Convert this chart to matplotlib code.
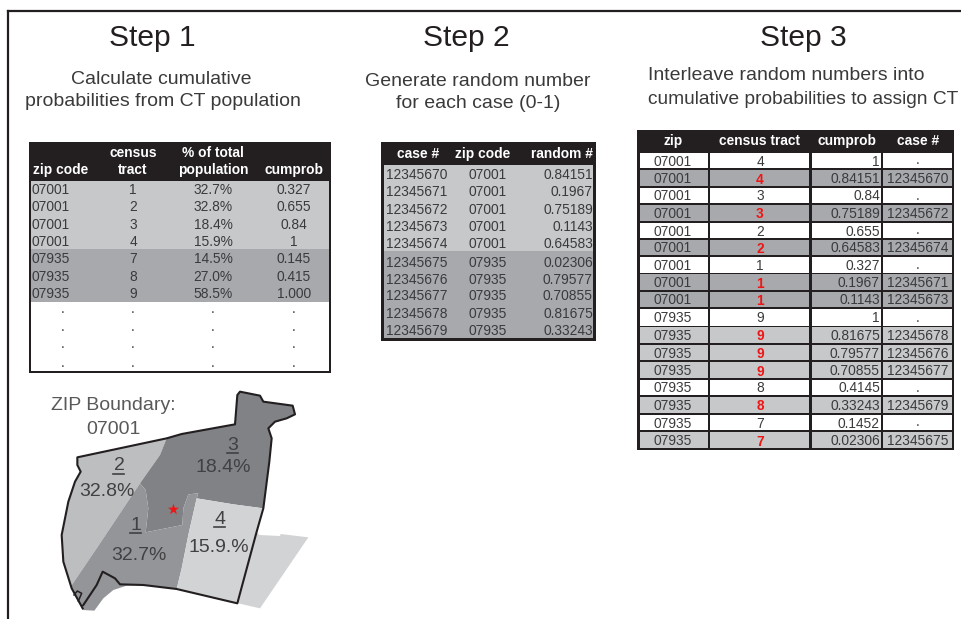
import matplotlib
matplotlib.use("Agg")
import matplotlib.pyplot as plt
from matplotlib.patches import Polygon, Rectangle

plt.rcParams['font.family'] = ['Liberation Sans', 'DejaVu Sans']

DARK = '#231f20'
TXT = '#3a3a3c'
LIGHT = '#c7c8ca'
MID = '#a7a9ac'
TRACT1 = '#939598'
RED = '#f01515'

# ---------- data ----------
t1_zip = ['07001', '07001', '07001', '07001', '07935', '07935', '07935', '.', '.', '.', '.']
t1_tract = ['1', '2', '3', '4', '7', '8', '9', '.', '.', '.', '.']
t1_pct = ['32.7%', '32.8%', '18.4%', '15.9%', '14.5%', '27.0%', '58.5%', '.', '.', '.', '.']
t1_cum = ['0.327', '0.655', '0.84', '1', '0.145', '0.415', '1.000', '.', '.', '.', '.']

t2_case = ['12345670', '12345671', '12345672', '12345673', '12345674',
           '12345675', '12345676', '12345677', '12345678', '12345679']
t2_zip = ['07001'] * 5 + ['07935'] * 5
t2_rand = ['0.84151', '0.1967', '0.75189', '0.1143', '0.64583',
           '0.02306', '0.79577', '0.70855', '0.81675', '0.33243']

t3_zip = ['07001'] * 9 + ['07935'] * 8
t3_tract = ['4', '4', '3', '3', '2', '2', '1', '1', '1', '9', '9', '9', '9', '8', '8', '7', '7']
t3_cum = ['1', '0.84151', '0.84', '0.75189', '0.655', '0.64583', '0.327', '0.1967', '0.1143',
          '1', '0.81675', '0.79577', '0.70855', '0.4145', '0.33243', '0.1452', '0.02306']
t3_case = ['.', '12345670', '.', '12345672', '.', '12345674', '.', '12345671', '12345673',
           '.', '12345678', '12345676', '12345677', '.', '12345679', '.', '12345675']

titles = ['Step 1', 'Step 2', 'Step 3']

fig = plt.figure(figsize=(9.62, 6.19), dpi=100)
ax = fig.add_axes([0, 0, 1, 1])
ax.set_xlim(0, 962)
ax.set_ylim(619, 0)
ax.axis('off')

PX = 0.72


def T(x, y, s, px=13.7, color=TXT, ha='center', weight='normal', z=5):
    return ax.text(x, y + 1, s, fontsize=px * PX, color=color, ha=ha, va='center',
                   fontweight=weight, zorder=z)


def R(x0, y0, x1, y1, c, z=1):
    ax.add_patch(Rectangle((x0, y0), x1 - x0, y1 - y0, fc=c, ec='none', zorder=z))


# frame
ax.plot([8, 8], [619, 11], color=DARK, lw=1.6, solid_capstyle='projecting')
ax.plot([8, 962], [11, 11], color=DARK, lw=1.6)

# titles
for x, s in zip([152, 466, 803], titles):
    T(x, 37, s, px=30, color=DARK)

SUB = 19.5
T(161, 79, 'Calculate cumulative', px=SUB)
T(163, 101, 'probabilities from CT population', px=SUB)
T(478, 81, 'Generate random number', px=SUB)
T(478, 103, 'for each case (0-1)', px=SUB)
T(648, 75, 'Interleave random numbers into', px=SUB, ha='left')
T(648, 98, 'cumulative probabilities to assign CT', px=19.1, ha='left')

# table 1
R(29, 142, 331, 373, DARK)
R(31, 181, 329, 249, LIGHT, 2)
R(31, 249, 329, 302, MID, 2)
R(31, 302, 329, 371, 'white', 2)
W = 'white'
T(61, 169, 'zip code', color=W, weight='bold')
T(133, 152, 'census', color=W, weight='bold')
T(133, 169, 'tract', color=W, weight='bold')
T(213, 152, '% of total', color=W, weight='bold')
T(213, 169, 'population', color=W, weight='bold')
T(294, 169, 'cumprob', color=W, weight='bold')
t1_y = [189, 206, 224, 241, 258, 276, 293, 308, 326, 343, 362]
for i, y in enumerate(t1_y):
    if t1_zip[i] == '.':
        T(63, y, t1_zip[i])
    else:
        T(32, y, t1_zip[i], ha='left')
    T(133, y, t1_tract[i])
    T(213, y, t1_pct[i])
    T(294, y, t1_cum[i])

# table 2
R(381, 142, 596, 341, DARK)
R(384, 165, 593, 251, LIGHT, 2)
R(384, 251, 593, 338, MID, 2)
T(418, 153, 'case #', color=W, weight='bold')
T(483, 153, 'zip code', color=W, weight='bold')
T(593, 153, 'random #', color=W, weight='bold', ha='right')
t2_y = [174, 191, 209, 226, 243, 262, 279, 295, 313, 330]
for i, y in enumerate(t2_y):
    T(386, y, t2_case[i], ha='left')
    T(488, y, t2_zip[i])
    T(593, y, t2_rand[i], ha='right')

# table 3
R(637, 130, 954, 450, DARK)
T(673, 140, 'zip', color=W, weight='bold')
T(760, 140, 'census tract', color=W, weight='bold')
T(847, 140, 'cumprob', color=W, weight='bold')
T(918, 140, 'case #', color=W, weight='bold')
t3_top = [153, 170, 188, 205, 223, 240, 257, 274, 292, 309, 327, 345, 362, 380, 397, 415, 432]
t3_bot = [168, 186, 203, 221, 238, 255, 273, 290, 307, 326, 343, 360, 378, 395, 413, 430, 448]
cols = [(640, 708), (710, 809), (812, 881), (883, 952)]
for i, (a, b) in enumerate(zip(t3_top, t3_bot)):
    blank = t3_case[i] == '.'
    c = 'white' if blank else (MID if t3_zip[i] == '07001' else LIGHT)
    for x0, x1 in cols:
        R(x0, a, x1, b, c, 2)
    y = (a + b) / 2
    T(673, y, t3_zip[i])
    if blank:
        T(760, y, t3_tract[i])
    else:
        T(760, y + 0.5, t3_tract[i], color=RED, weight='bold')
    T(880, y, t3_cum[i], ha='right')
    T(918, y - 1 if blank else y, t3_case[i])


# map (traced in zoomed pixels)
def M(pts):
    return [(x / 3, 375 + y / 3) for x, y in pts]


right_piece = [(778, 480), (840, 483), (842, 477), (925, 487), (780, 700), (715, 685), (770, 470)]
tract2 = [(232, 247), (500, 190), (480, 240), (420, 325), (350, 430), (290, 520), (212, 635),
          (190, 560), (185, 480), (205, 380), (225, 320), (242, 290), (232, 270)]
tract3 = [(500, 190), (545, 177), (705, 148), (712, 60), (720, 50), (780, 62), (790, 80), (878, 92),
          (885, 118), (860, 130), (825, 140), (805, 160), (815, 190), (808, 260), (790, 400), (700, 388),
          (590, 370), (595, 355), (565, 358), (550, 400), (547, 450), (437, 472), (445, 400), (437, 345),
          (420, 325), (480, 240)]
tract1 = [(420, 325), (437, 345), (445, 400), (437, 472), (547, 450), (550, 400), (565, 358), (595, 355),
          (590, 370), (565, 480), (545, 580), (530, 642), (430, 630), (380, 632), (340, 645), (310, 670),
          (283, 707), (248, 705), (212, 635), (290, 520), (350, 430)]
tract4 = [(590, 370), (700, 388), (790, 400), (770, 470), (712, 685), (530, 642), (545, 580), (565, 480)]
for pts, c in [(right_piece, '#d1d3d4'), (tract2, '#bcbec0'), (tract3, '#808285'),
               (tract1, TRACT1), (tract4, '#d1d3d4')]:
    ax.add_patch(Polygon(M(pts), closed=True, fc=c, ec='none', zorder=2))

outline = [(248, 700), (215, 640), (190, 560), (185, 480), (205, 380), (225, 320), (242, 290), (232, 270),
           (232, 247), (500, 190), (545, 177), (705, 148), (712, 60), (720, 50), (780, 62), (790, 80),
           (878, 92), (885, 118), (860, 130), (825, 140), (805, 160), (815, 190), (808, 260), (790, 400),
           (770, 470), (712, 685), (530, 642), (430, 630), (360, 628), (345, 610), (308, 590), (290, 630),
           (250, 690)]
xs, ys = zip(*M(outline))
ax.plot(xs, ys, color=DARK, lw=1.5, zorder=3, solid_joinstyle='round')
xs, ys = zip(*M([(222, 660), (232, 648), (245, 655), (235, 678)]))
ax.plot(xs, ys, color=DARK, lw=1.1, zorder=3)

ZIPC = '#58595b'
T(113, 405, 'ZIP Boundary:', px=19.5, color=ZIPC)
T(113, 428, '07001', px=19.5, color=ZIPC)
MC = '#414042'
labels = [('2', '32.8%', 119, 466, 107, 491), ('3', '18.4%', 233, 445, 223, 466),
          ('1', '32.7%', 136, 525, 139, 555), ('4', '15.9.%', 220, 519, 219, 547)]
for n, pct, nx, ny, px_, py_ in labels:
    T(nx, ny - 1, n, px=19.5, color=MC)
    ax.plot([nx - 5.5, nx + 5.5], [ny + 8, ny + 8], color=MC, lw=1.2, zorder=5)
    T(px_, py_, pct, px=19.5, color=MC)

ax.scatter([173.5], [509], marker='*', s=70, color=RED, zorder=6, linewidths=0)

fig.savefig('out.png', dpi=100)
